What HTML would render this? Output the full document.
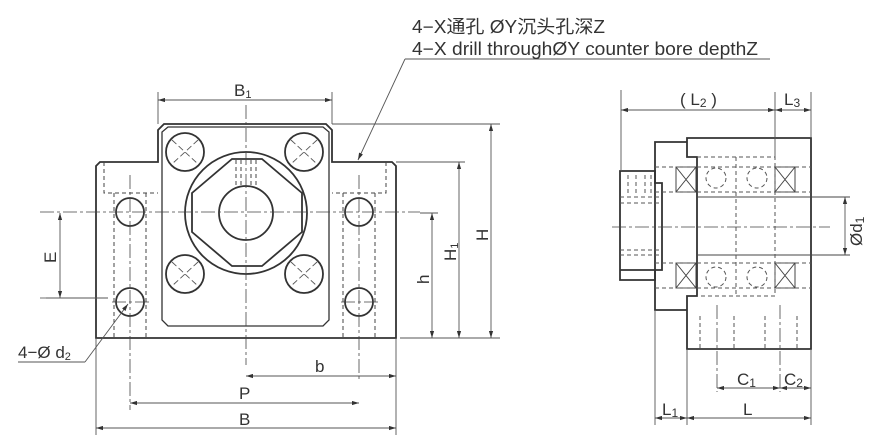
<!DOCTYPE html>
<html><head><meta charset="utf-8"><style>
html,body{margin:0;padding:0;background:#fff;}
svg{display:block;}
text{font-family:"Liberation Sans","Noto Sans CJK SC",sans-serif;fill:#333;}
</style></head><body>
<svg width="870" height="438" viewBox="0 0 870 438" xmlns="http://www.w3.org/2000/svg">
<defs>
<marker id="a" viewBox="0 0 10 6" refX="10" refY="3" markerWidth="8" markerHeight="5" orient="auto-start-reverse"><path d="M0,0 L10,3 L0,6 z" fill="#333"/></marker>
</defs>
<g fill="none" stroke="#333" stroke-width="1.8">
<path d="M96,338 V166 L100,162 H158 V130 L164,124 H326 L332,130 V162 H392 L396,166 V338 Z"/>
<path d="M162,320 V132 L168,127 H323 L329,132 V320 L323,326 H168 Z" stroke-width="1.3"/>
<circle cx="246" cy="213" r="61"/>
<polygon points="232,159 262,159 302,193 302,232 262,266 232,266 192,232 192,193"/>
<circle cx="246" cy="213" r="27"/>
<circle cx="185" cy="152" r="19"/><circle cx="304" cy="152" r="19"/>
<circle cx="185" cy="274" r="19"/><circle cx="304" cy="274" r="19"/>
<circle cx="130" cy="212" r="14"/><circle cx="130" cy="302" r="14"/>
<circle cx="359" cy="212" r="14"/><circle cx="359" cy="302" r="14"/>
</g>
<g fill="none" stroke="#555" stroke-width="0.9">
<path d="M172,140 L198,164 M198,140 L172,164 M291,140 L317,164 M317,140 L291,164 M172,262 L198,286 M198,262 L172,286 M291,262 L317,286 M317,262 L291,286" stroke-dasharray="6,3"/>
</g>
<g fill="none" stroke="#444" stroke-width="1" stroke-dasharray="4,3">
<path d="M104,162 V193 H158 M386,162 V193 H332 M114,193 V338 M146,193 V338 M343,193 V338 M375,193 V338"/>
<path d="M236,160 V186 M241,160 V186 M251,160 V186 M256,160 V186"/>
</g>
<g fill="none" stroke="#444" stroke-width="0.8" stroke-dasharray="14,3,3,3">
<path d="M40,212 H420 M40,298 H62 M246,105 V365 M130,175 V410 M359,175 V380 M112,302 H150 M341,302 H378"/>
</g>
<g fill="none" stroke="#555" stroke-width="0.9">
<path d="M158,124 V92 M332,124 V92"/>
<line x1="158" y1="100" x2="332" y2="100" marker-start="url(#a)" marker-end="url(#a)"/>
<path d="M332,124 H500 M396,162 H465 M400,338 H500 M420,213 H438"/>
<line x1="491" y1="124" x2="491" y2="338" marker-start="url(#a)" marker-end="url(#a)"/>
<line x1="459" y1="162" x2="459" y2="338" marker-start="url(#a)" marker-end="url(#a)"/>
<line x1="432" y1="213" x2="432" y2="338" marker-start="url(#a)" marker-end="url(#a)"/>
<line x1="60" y1="213" x2="60" y2="298" marker-start="url(#a)" marker-end="url(#a)"/>
<path d="M46,298 H108 M96,338 V435 M396,338 V435"/>
<line x1="246" y1="376" x2="396" y2="376" marker-start="url(#a)" marker-end="url(#a)"/>
<line x1="130" y1="403" x2="359" y2="403" marker-start="url(#a)" marker-end="url(#a)"/>
<line x1="96" y1="428" x2="396" y2="428" marker-start="url(#a)" marker-end="url(#a)"/>
<path d="M18,362 H85"/>
<line x1="85" y1="362" x2="128" y2="304" marker-end="url(#a)"/>
<path d="M405,59 H770"/>
<line x1="405" y1="59" x2="358" y2="160" marker-end="url(#a)"/>
</g>
<text x="234" y="96" font-size="17">B<tspan font-size="11" dy="2">1</tspan></text>
<text x="315" y="372" font-size="17">b</text>
<text x="239" y="399" font-size="17">P</text>
<text x="239" y="425" font-size="17">B</text>
<text transform="translate(56,263) rotate(-90)" font-size="17">E</text>
<text transform="translate(429,284) rotate(-90)" font-size="17">h</text>
<text transform="translate(456,261) rotate(-90)" font-size="17">H<tspan font-size="11" dy="2">1</tspan></text>
<text transform="translate(488,241) rotate(-90)" font-size="17">H</text>
<text x="18" y="358" font-size="17">4−Ø d<tspan font-size="11" dy="2">2</tspan></text>
<text x="412" y="33" font-size="18" textLength="193" lengthAdjust="spacingAndGlyphs">4−X通孔 ØY沉头孔深Z</text>
<text x="412" y="55" font-size="18" textLength="346" lengthAdjust="spacingAndGlyphs">4−X drill throughØY counter bore depthZ</text>
<g fill="none" stroke="#333" stroke-width="1.8">
<path d="M687,349 V296 H697 V157 H687 V138 H811 V349 Z"/>
<path d="M687,142 H655 V310 H687"/>
<path d="M620,171 H655 V183 H662 V270 H655 V280 H620 Z M620,270 H655"/>
</g>
<g fill="none" stroke="#444" stroke-width="1">
<path d="M697,197 H811 M697,255 H811 M811,197 H850 M811,255 H850"/>
<path d="M676,167 H696 V192 H676 Z M676,167 L696,192 M696,167 L676,192"/>
<path d="M676,263 H696 V288 H676 Z M676,263 L696,288 M696,263 L676,288"/>
<path d="M775,167 H795 V192 H775 Z M775,167 L795,192 M795,167 L775,192"/>
<path d="M775,263 H795 V288 H775 Z M775,263 L795,288 M795,263 L775,288"/>
</g>
<g fill="none" stroke="#555" stroke-width="1" stroke-dasharray="4,3">
<path d="M655,167 H811 M655,192 H811 M655,263 H811 M655,288 H811 M697,157 H775 V296 H697"/>
<path d="M620,197 H662 M620,203 H662 M620,250 H662 M620,255 H662 M628,175 V195 M636,175 V195 M645,175 V195 M651,175 V195"/>
<circle cx="716" cy="178" r="10"/><circle cx="757" cy="178" r="10"/>
<circle cx="716" cy="277" r="10"/><circle cx="757" cy="277" r="10"/>
<path d="M736,157 V296 M700,316 V349 M734,316 V349 M765,316 V349 M797,316 V349"/>
</g>
<g fill="none" stroke="#444" stroke-width="0.8" stroke-dasharray="14,3,3,3">
<path d="M612,227 H830 M717,305 V392 M780,305 V392"/>
</g>
<g fill="none" stroke="#555" stroke-width="0.9">
<path d="M621,171 V90 M775,157 V92 M811,138 V92 M811,349 V425 M687,349 V425 M655,310 V425"/>
<line x1="621" y1="110" x2="775" y2="110" marker-start="url(#a)" marker-end="url(#a)"/>
<line x1="775" y1="110" x2="811" y2="110" marker-start="url(#a)" marker-end="url(#a)"/>
<line x1="845" y1="197" x2="845" y2="255" marker-start="url(#a)" marker-end="url(#a)"/>
<line x1="717" y1="388" x2="780" y2="388" marker-start="url(#a)" marker-end="url(#a)"/>
<line x1="780" y1="388" x2="811" y2="388" marker-start="url(#a)" marker-end="url(#a)"/>
<line x1="687" y1="418" x2="811" y2="418" marker-start="url(#a)" marker-end="url(#a)"/>
<line x1="655" y1="418" x2="687" y2="418" marker-start="url(#a)" marker-end="url(#a)"/>
</g>
<text x="680" y="105" font-size="17">( L<tspan font-size="12" dy="2">2</tspan><tspan dy="-2"> )</tspan></text>
<text x="784" y="105" font-size="17">L<tspan font-size="12" dy="2">3</tspan></text>
<text x="737" y="385" font-size="17">C<tspan font-size="12" dy="2">1</tspan></text>
<text x="784" y="385" font-size="17">C<tspan font-size="12" dy="2">2</tspan></text>
<text x="743" y="415" font-size="17">L</text>
<text x="662" y="415" font-size="17">L<tspan font-size="12" dy="2">1</tspan></text>
<text transform="translate(862,246) rotate(-90)" font-size="17">Ød<tspan font-size="12" dy="2">1</tspan></text>
</svg>
</body></html>
